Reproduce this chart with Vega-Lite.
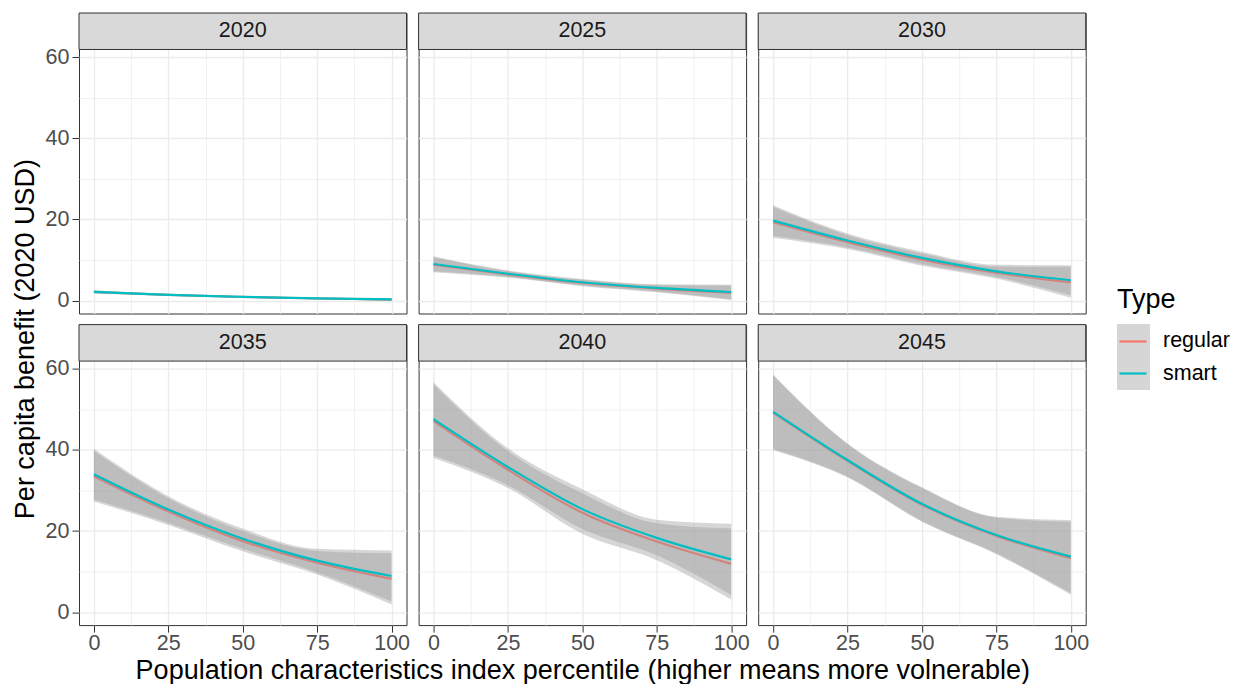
{
  "$schema": "https://vega.github.io/schema/vega-lite/v6.json",
  "background": "white",
  "padding": {"left": 12, "top": 12, "right": 5, "bottom": 2},
  "title": {"text": "Per capita benefit (2020 USD)", "orient": "left", "anchor": "middle", "fontSize": 27, "fontWeight": "normal", "font": "Liberation Sans", "color": "black", "offset": 4.5, "dx": 9},
  "datasets": {
    "curves": [
      {"year": "2020", "type": "regular", "x": 0, "fit": 2.1, "lo": 1.75, "hi": 2.5},
      {"year": "2020", "type": "regular", "x": 25, "fit": 1.38, "lo": 1.15, "hi": 1.62},
      {"year": "2020", "type": "regular", "x": 50, "fit": 0.88, "lo": 0.68, "hi": 1.08},
      {"year": "2020", "type": "regular", "x": 75, "fit": 0.5, "lo": 0.3, "hi": 0.7},
      {"year": "2020", "type": "regular", "x": 100, "fit": 0.25, "lo": -0.1, "hi": 0.6},
      {"year": "2020", "type": "smart", "x": 0, "fit": 2.15, "lo": 1.8, "hi": 2.55},
      {"year": "2020", "type": "smart", "x": 25, "fit": 1.4, "lo": 1.17, "hi": 1.65},
      {"year": "2020", "type": "smart", "x": 50, "fit": 0.9, "lo": 0.7, "hi": 1.1},
      {"year": "2020", "type": "smart", "x": 75, "fit": 0.52, "lo": 0.32, "hi": 0.72},
      {"year": "2020", "type": "smart", "x": 100, "fit": 0.27, "lo": -0.08, "hi": 0.62},
      {"year": "2025", "type": "regular", "x": 0, "fit": 8.85, "lo": 7.0, "hi": 10.7},
      {"year": "2025", "type": "regular", "x": 25, "fit": 6.45, "lo": 5.65, "hi": 7.25},
      {"year": "2025", "type": "regular", "x": 50, "fit": 4.35, "lo": 3.55, "hi": 5.15},
      {"year": "2025", "type": "regular", "x": 75, "fit": 2.95, "lo": 2.05, "hi": 3.85},
      {"year": "2025", "type": "regular", "x": 100, "fit": 1.9, "lo": 0.1, "hi": 3.7},
      {"year": "2025", "type": "smart", "x": 0, "fit": 9.0, "lo": 7.2, "hi": 10.9},
      {"year": "2025", "type": "smart", "x": 25, "fit": 6.6, "lo": 5.8, "hi": 7.4},
      {"year": "2025", "type": "smart", "x": 50, "fit": 4.5, "lo": 3.7, "hi": 5.3},
      {"year": "2025", "type": "smart", "x": 75, "fit": 3.1, "lo": 2.2, "hi": 4.0},
      {"year": "2025", "type": "smart", "x": 100, "fit": 2.1, "lo": 0.3, "hi": 3.9},
      {"year": "2030", "type": "regular", "x": 0, "fit": 19.3, "lo": 15.5, "hi": 23.1},
      {"year": "2030", "type": "regular", "x": 25, "fit": 14.4, "lo": 12.7, "hi": 16.1},
      {"year": "2030", "type": "regular", "x": 50, "fit": 10.1, "lo": 8.6, "hi": 11.6},
      {"year": "2030", "type": "regular", "x": 75, "fit": 6.85, "lo": 5.4, "hi": 8.4},
      {"year": "2030", "type": "regular", "x": 100, "fit": 4.5, "lo": 0.7, "hi": 8.3},
      {"year": "2030", "type": "smart", "x": 0, "fit": 19.7, "lo": 15.9, "hi": 23.5},
      {"year": "2030", "type": "smart", "x": 25, "fit": 14.8, "lo": 13.1, "hi": 16.5},
      {"year": "2030", "type": "smart", "x": 50, "fit": 10.5, "lo": 9.0, "hi": 12.0},
      {"year": "2030", "type": "smart", "x": 75, "fit": 7.2, "lo": 5.8, "hi": 8.8},
      {"year": "2030", "type": "smart", "x": 100, "fit": 5.0, "lo": 1.3, "hi": 8.7},
      {"year": "2035", "type": "regular", "x": 0, "fit": 33.5, "lo": 27.3, "hi": 39.8},
      {"year": "2035", "type": "regular", "x": 25, "fit": 24.8, "lo": 21.5, "hi": 28.1},
      {"year": "2035", "type": "regular", "x": 50, "fit": 17.5, "lo": 15.0, "hi": 20.0},
      {"year": "2035", "type": "regular", "x": 75, "fit": 12.2, "lo": 9.3, "hi": 15.1},
      {"year": "2035", "type": "regular", "x": 100, "fit": 8.2, "lo": 1.9, "hi": 14.5},
      {"year": "2035", "type": "smart", "x": 0, "fit": 34.0, "lo": 27.8, "hi": 40.3},
      {"year": "2035", "type": "smart", "x": 25, "fit": 25.3, "lo": 22.0, "hi": 28.6},
      {"year": "2035", "type": "smart", "x": 50, "fit": 18.1, "lo": 15.6, "hi": 20.6},
      {"year": "2035", "type": "smart", "x": 75, "fit": 12.7, "lo": 9.8, "hi": 15.6},
      {"year": "2035", "type": "smart", "x": 100, "fit": 8.9, "lo": 2.6, "hi": 15.2},
      {"year": "2040", "type": "regular", "x": 0, "fit": 47.1, "lo": 38.0, "hi": 56.2},
      {"year": "2040", "type": "regular", "x": 25, "fit": 35.1, "lo": 30.6, "hi": 39.7},
      {"year": "2040", "type": "regular", "x": 50, "fit": 24.5, "lo": 19.3, "hi": 29.3},
      {"year": "2040", "type": "regular", "x": 75, "fit": 17.4, "lo": 12.8, "hi": 21.9},
      {"year": "2040", "type": "regular", "x": 100, "fit": 11.9, "lo": 3.1, "hi": 20.6},
      {"year": "2040", "type": "smart", "x": 0, "fit": 47.6, "lo": 38.6, "hi": 56.7},
      {"year": "2040", "type": "smart", "x": 25, "fit": 35.8, "lo": 31.3, "hi": 40.4},
      {"year": "2040", "type": "smart", "x": 50, "fit": 25.4, "lo": 20.5, "hi": 30.3},
      {"year": "2040", "type": "smart", "x": 75, "fit": 18.3, "lo": 14.0, "hi": 22.8},
      {"year": "2040", "type": "smart", "x": 100, "fit": 13.0, "lo": 4.2, "hi": 21.8},
      {"year": "2045", "type": "regular", "x": 0, "fit": 49.2, "lo": 40.0, "hi": 58.4},
      {"year": "2045", "type": "regular", "x": 25, "fit": 37.3, "lo": 33.2, "hi": 41.4},
      {"year": "2045", "type": "regular", "x": 50, "fit": 26.5, "lo": 22.3, "hi": 30.6},
      {"year": "2045", "type": "regular", "x": 75, "fit": 18.8, "lo": 14.3, "hi": 23.3},
      {"year": "2045", "type": "regular", "x": 100, "fit": 13.3, "lo": 4.3, "hi": 22.3},
      {"year": "2045", "type": "smart", "x": 0, "fit": 49.4, "lo": 40.2, "hi": 58.6},
      {"year": "2045", "type": "smart", "x": 25, "fit": 37.5, "lo": 33.4, "hi": 41.6},
      {"year": "2045", "type": "smart", "x": 50, "fit": 26.7, "lo": 22.5, "hi": 30.8},
      {"year": "2045", "type": "smart", "x": 75, "fit": 19.0, "lo": 14.5, "hi": 23.5},
      {"year": "2045", "type": "smart", "x": 100, "fit": 13.7, "lo": 4.7, "hi": 22.7}
    ]
  },
  "spacing": 9.6,
  "resolve": {"scale": {"fill": "shared", "stroke": "shared"}, "legend": {"fill": "shared", "stroke": "shared"}},
  "vconcat": [
    {
      "hconcat": [
        {
          "width": 327.5, "height": 300.5,
          "encoding": {"x": {"field": "x", "type": "quantitative", "title": null, "scale": {"domain": [-5, 105], "nice": false, "zero": false}, "axis": {"values": [0, 12.5, 25, 37.5, 50, 62.5, 75, 87.5, 100], "labels": false, "ticks": false, "gridWidth": {"condition": {"test": "datum.value % 25 === 0", "value": 1.3}, "value": 0.7}}}},
          "layer": [
            {"data": {"name": "curves"}, "transform": [{"filter": "datum.year === '2020' && datum.type === 'regular'"}], "mark": {"type": "area", "opacity": 0.4, "interpolate": "monotone"}, "encoding": {"y": {"field": "lo", "type": "quantitative", "title": null, "scale": {"domain": [-3.2, 70.9], "nice": false, "zero": false}, "axis": {"values": [0, 10, 20, 30, 40, 50, 60], "labelExpr": "datum.value % 20 === 0 ? datum.label : ''", "tickOpacity": {"condition": {"test": "datum.value % 20 === 0", "value": 1}, "value": 0}, "gridWidth": {"condition": {"test": "datum.value % 20 === 0", "value": 1.3}, "value": 0.7}}}, "y2": {"field": "hi"}, "fill": {"field": "type", "type": "nominal", "scale": {"range": ["#999999", "#999999"]}, "legend": {"orient": "none", "legendX": 1038, "legendY": 274, "title": "Type", "symbolType": "square", "symbolSize": 1089, "symbolStrokeWidth": 0, "rowPadding": 0, "labelOffset": 13, "titlePadding": 10}}}},
            {"data": {"name": "curves"}, "transform": [{"filter": "datum.year === '2020' && datum.type === 'regular'"}], "mark": {"type": "line", "strokeWidth": 2.2, "interpolate": "monotone"}, "encoding": {"y": {"field": "fit", "type": "quantitative", "title": null}, "stroke": {"field": "type", "type": "nominal", "scale": {"domain": ["regular", "smart"], "range": ["#F8766D", "#00BFC4"]}, "legend": {"orient": "none", "legendX": 1039, "legendY": 313.5, "title": null, "labelExpr": "''", "symbolType": "stroke", "symbolSize": 729, "symbolStrokeWidth": 2.2, "rowPadding": 6, "zindex": 2}}}},
            {"data": {"name": "curves"}, "transform": [{"filter": "datum.year === '2020' && datum.type === 'smart'"}], "mark": {"type": "area", "opacity": 0.4, "interpolate": "monotone"}, "encoding": {"y": {"field": "lo", "type": "quantitative", "title": null}, "y2": {"field": "hi"}, "fill": {"field": "type", "type": "nominal"}}},
            {"data": {"name": "curves"}, "transform": [{"filter": "datum.year === '2020' && datum.type === 'smart'"}], "mark": {"type": "line", "strokeWidth": 2.2, "interpolate": "monotone"}, "encoding": {"y": {"field": "fit", "type": "quantitative", "title": null}, "stroke": {"field": "type", "type": "nominal"}}},
            {"data": {"name": "curves"}, "transform": [{"filter": "datum.year === '2020' && datum.type === 'regular' && datum.x === 0"}], "mark": {"type": "rect", "fill": "#D9D9D9", "stroke": "#333333", "strokeWidth": 1}, "encoding": {"x": {"datum": -5, "type": "quantitative"}, "x2": {"datum": 105}, "y": {"datum": 61.9, "type": "quantitative"}, "y2": {"datum": 70.9}}},
            {"data": {"name": "curves"}, "transform": [{"filter": "datum.year === '2020' && datum.type === 'regular' && datum.x === 0"}], "mark": {"type": "text", "fontSize": 21.5, "color": "#1A1A1A", "baseline": "middle", "align": "center"}, "encoding": {"x": {"datum": 50, "type": "quantitative"}, "y": {"datum": 66.4, "type": "quantitative"}, "text": {"field": "year", "type": "nominal"}}}
          ]
        },
        {
          "width": 327.5, "height": 300.5,
          "encoding": {"x": {"field": "x", "type": "quantitative", "title": null, "scale": {"domain": [-5, 105], "nice": false, "zero": false}, "axis": {"values": [0, 12.5, 25, 37.5, 50, 62.5, 75, 87.5, 100], "labels": false, "ticks": false, "gridWidth": {"condition": {"test": "datum.value % 25 === 0", "value": 1.3}, "value": 0.7}}}},
          "layer": [
            {"data": {"name": "curves"}, "transform": [{"filter": "datum.year === '2025' && datum.type === 'regular'"}], "mark": {"type": "area", "opacity": 0.4, "interpolate": "monotone"}, "encoding": {"y": {"field": "lo", "type": "quantitative", "title": null, "scale": {"domain": [-3.2, 70.9], "nice": false, "zero": false}, "axis": {"values": [0, 10, 20, 30, 40, 50, 60], "labels": false, "ticks": false, "gridWidth": {"condition": {"test": "datum.value % 20 === 0", "value": 1.3}, "value": 0.7}}}, "y2": {"field": "hi"}, "fill": {"field": "type", "type": "nominal"}}},
            {"data": {"name": "curves"}, "transform": [{"filter": "datum.year === '2025' && datum.type === 'regular'"}], "mark": {"type": "line", "strokeWidth": 2.2, "interpolate": "monotone"}, "encoding": {"y": {"field": "fit", "type": "quantitative", "title": null}, "stroke": {"field": "type", "type": "nominal"}}},
            {"data": {"name": "curves"}, "transform": [{"filter": "datum.year === '2025' && datum.type === 'smart'"}], "mark": {"type": "area", "opacity": 0.4, "interpolate": "monotone"}, "encoding": {"y": {"field": "lo", "type": "quantitative", "title": null}, "y2": {"field": "hi"}, "fill": {"field": "type", "type": "nominal"}}},
            {"data": {"name": "curves"}, "transform": [{"filter": "datum.year === '2025' && datum.type === 'smart'"}], "mark": {"type": "line", "strokeWidth": 2.2, "interpolate": "monotone"}, "encoding": {"y": {"field": "fit", "type": "quantitative", "title": null}, "stroke": {"field": "type", "type": "nominal"}}},
            {"data": {"name": "curves"}, "transform": [{"filter": "datum.year === '2025' && datum.type === 'regular' && datum.x === 0"}], "mark": {"type": "rect", "fill": "#D9D9D9", "stroke": "#333333", "strokeWidth": 1}, "encoding": {"x": {"datum": -5, "type": "quantitative"}, "x2": {"datum": 105}, "y": {"datum": 61.9, "type": "quantitative"}, "y2": {"datum": 70.9}}},
            {"data": {"name": "curves"}, "transform": [{"filter": "datum.year === '2025' && datum.type === 'regular' && datum.x === 0"}], "mark": {"type": "text", "fontSize": 21.5, "color": "#1A1A1A", "baseline": "middle", "align": "center"}, "encoding": {"x": {"datum": 50, "type": "quantitative"}, "y": {"datum": 66.4, "type": "quantitative"}, "text": {"field": "year", "type": "nominal"}}}
          ]
        },
        {
          "width": 327.5, "height": 300.5,
          "encoding": {"x": {"field": "x", "type": "quantitative", "title": null, "scale": {"domain": [-5, 105], "nice": false, "zero": false}, "axis": {"values": [0, 12.5, 25, 37.5, 50, 62.5, 75, 87.5, 100], "labels": false, "ticks": false, "gridWidth": {"condition": {"test": "datum.value % 25 === 0", "value": 1.3}, "value": 0.7}}}},
          "layer": [
            {"data": {"name": "curves"}, "transform": [{"filter": "datum.year === '2030' && datum.type === 'regular'"}], "mark": {"type": "area", "opacity": 0.4, "interpolate": "monotone"}, "encoding": {"y": {"field": "lo", "type": "quantitative", "title": null, "scale": {"domain": [-3.2, 70.9], "nice": false, "zero": false}, "axis": {"values": [0, 10, 20, 30, 40, 50, 60], "labels": false, "ticks": false, "gridWidth": {"condition": {"test": "datum.value % 20 === 0", "value": 1.3}, "value": 0.7}}}, "y2": {"field": "hi"}, "fill": {"field": "type", "type": "nominal"}}},
            {"data": {"name": "curves"}, "transform": [{"filter": "datum.year === '2030' && datum.type === 'regular'"}], "mark": {"type": "line", "strokeWidth": 2.2, "interpolate": "monotone"}, "encoding": {"y": {"field": "fit", "type": "quantitative", "title": null}, "stroke": {"field": "type", "type": "nominal"}}},
            {"data": {"name": "curves"}, "transform": [{"filter": "datum.year === '2030' && datum.type === 'smart'"}], "mark": {"type": "area", "opacity": 0.4, "interpolate": "monotone"}, "encoding": {"y": {"field": "lo", "type": "quantitative", "title": null}, "y2": {"field": "hi"}, "fill": {"field": "type", "type": "nominal"}}},
            {"data": {"name": "curves"}, "transform": [{"filter": "datum.year === '2030' && datum.type === 'smart'"}], "mark": {"type": "line", "strokeWidth": 2.2, "interpolate": "monotone"}, "encoding": {"y": {"field": "fit", "type": "quantitative", "title": null}, "stroke": {"field": "type", "type": "nominal"}}},
            {"data": {"name": "curves"}, "transform": [{"filter": "datum.year === '2030' && datum.type === 'regular' && datum.x === 0"}], "mark": {"type": "rect", "fill": "#D9D9D9", "stroke": "#333333", "strokeWidth": 1}, "encoding": {"x": {"datum": -5, "type": "quantitative"}, "x2": {"datum": 105}, "y": {"datum": 61.9, "type": "quantitative"}, "y2": {"datum": 70.9}}},
            {"data": {"name": "curves"}, "transform": [{"filter": "datum.year === '2030' && datum.type === 'regular' && datum.x === 0"}], "mark": {"type": "text", "fontSize": 21.5, "color": "#1A1A1A", "baseline": "middle", "align": "center"}, "encoding": {"x": {"datum": 50, "type": "quantitative"}, "y": {"datum": 66.4, "type": "quantitative"}, "text": {"field": "year", "type": "nominal"}}}
          ]
        }
      ],
      "spacing": 11.6,
      "bounds": "flush",
      "resolve": {"scale": {"fill": "shared", "stroke": "shared"}, "legend": {"fill": "shared", "stroke": "shared"}}
    },
    {
      "hconcat": [
        {
          "width": 327.5, "height": 300.5,
          "encoding": {"x": {"field": "x", "type": "quantitative", "title": null, "scale": {"domain": [-5, 105], "nice": false, "zero": false}, "axis": {"values": [0, 12.5, 25, 37.5, 50, 62.5, 75, 87.5, 100], "labelExpr": "datum.value % 25 === 0 ? datum.label : ''", "labelPadding": 0, "tickOpacity": {"condition": {"test": "datum.value % 25 === 0", "value": 1}, "value": 0}, "gridWidth": {"condition": {"test": "datum.value % 25 === 0", "value": 1.3}, "value": 0.7}}}},
          "layer": [
            {"data": {"name": "curves"}, "transform": [{"filter": "datum.year === '2035' && datum.type === 'regular'"}], "mark": {"type": "area", "opacity": 0.4, "interpolate": "monotone"}, "encoding": {"y": {"field": "lo", "type": "quantitative", "title": null, "scale": {"domain": [-3.2, 70.9], "nice": false, "zero": false}, "axis": {"values": [0, 10, 20, 30, 40, 50, 60], "labelExpr": "datum.value % 20 === 0 ? datum.label : ''", "tickOpacity": {"condition": {"test": "datum.value % 20 === 0", "value": 1}, "value": 0}, "gridWidth": {"condition": {"test": "datum.value % 20 === 0", "value": 1.3}, "value": 0.7}}}, "y2": {"field": "hi"}, "fill": {"field": "type", "type": "nominal"}}},
            {"data": {"name": "curves"}, "transform": [{"filter": "datum.year === '2035' && datum.type === 'regular'"}], "mark": {"type": "line", "strokeWidth": 2.2, "interpolate": "monotone"}, "encoding": {"y": {"field": "fit", "type": "quantitative", "title": null}, "stroke": {"field": "type", "type": "nominal"}}},
            {"data": {"name": "curves"}, "transform": [{"filter": "datum.year === '2035' && datum.type === 'smart'"}], "mark": {"type": "area", "opacity": 0.4, "interpolate": "monotone"}, "encoding": {"y": {"field": "lo", "type": "quantitative", "title": null}, "y2": {"field": "hi"}, "fill": {"field": "type", "type": "nominal"}}},
            {"data": {"name": "curves"}, "transform": [{"filter": "datum.year === '2035' && datum.type === 'smart'"}], "mark": {"type": "line", "strokeWidth": 2.2, "interpolate": "monotone"}, "encoding": {"y": {"field": "fit", "type": "quantitative", "title": null}, "stroke": {"field": "type", "type": "nominal"}}},
            {"data": {"name": "curves"}, "transform": [{"filter": "datum.year === '2035' && datum.type === 'regular' && datum.x === 0"}], "mark": {"type": "rect", "fill": "#D9D9D9", "stroke": "#333333", "strokeWidth": 1}, "encoding": {"x": {"datum": -5, "type": "quantitative"}, "x2": {"datum": 105}, "y": {"datum": 61.9, "type": "quantitative"}, "y2": {"datum": 70.9}}},
            {"data": {"name": "curves"}, "transform": [{"filter": "datum.year === '2035' && datum.type === 'regular' && datum.x === 0"}], "mark": {"type": "text", "fontSize": 21.5, "color": "#1A1A1A", "baseline": "middle", "align": "center"}, "encoding": {"x": {"datum": 50, "type": "quantitative"}, "y": {"datum": 66.4, "type": "quantitative"}, "text": {"field": "year", "type": "nominal"}}}
          ]
        },
        {
          "width": 327.5, "height": 300.5,
          "encoding": {"x": {"field": "x", "type": "quantitative", "title": "Population characteristics index percentile (higher means more volnerable)", "scale": {"domain": [-5, 105], "nice": false, "zero": false}, "axis": {"values": [0, 12.5, 25, 37.5, 50, 62.5, 75, 87.5, 100], "labelExpr": "datum.value % 25 === 0 ? datum.label : ''", "labelPadding": 0, "tickOpacity": {"condition": {"test": "datum.value % 25 === 0", "value": 1}, "value": 0}, "gridWidth": {"condition": {"test": "datum.value % 25 === 0", "value": 1.3}, "value": 0.7}, "titlePadding": 4}}},
          "layer": [
            {"data": {"name": "curves"}, "transform": [{"filter": "datum.year === '2040' && datum.type === 'regular'"}], "mark": {"type": "area", "opacity": 0.4, "interpolate": "monotone"}, "encoding": {"y": {"field": "lo", "type": "quantitative", "title": null, "scale": {"domain": [-3.2, 70.9], "nice": false, "zero": false}, "axis": {"values": [0, 10, 20, 30, 40, 50, 60], "labels": false, "ticks": false, "gridWidth": {"condition": {"test": "datum.value % 20 === 0", "value": 1.3}, "value": 0.7}}}, "y2": {"field": "hi"}, "fill": {"field": "type", "type": "nominal"}}},
            {"data": {"name": "curves"}, "transform": [{"filter": "datum.year === '2040' && datum.type === 'regular'"}], "mark": {"type": "line", "strokeWidth": 2.2, "interpolate": "monotone"}, "encoding": {"y": {"field": "fit", "type": "quantitative", "title": null}, "stroke": {"field": "type", "type": "nominal"}}},
            {"data": {"name": "curves"}, "transform": [{"filter": "datum.year === '2040' && datum.type === 'smart'"}], "mark": {"type": "area", "opacity": 0.4, "interpolate": "monotone"}, "encoding": {"y": {"field": "lo", "type": "quantitative", "title": null}, "y2": {"field": "hi"}, "fill": {"field": "type", "type": "nominal"}}},
            {"data": {"name": "curves"}, "transform": [{"filter": "datum.year === '2040' && datum.type === 'smart'"}], "mark": {"type": "line", "strokeWidth": 2.2, "interpolate": "monotone"}, "encoding": {"y": {"field": "fit", "type": "quantitative", "title": null}, "stroke": {"field": "type", "type": "nominal"}}},
            {"data": {"name": "curves"}, "transform": [{"filter": "datum.year === '2040' && datum.type === 'regular' && datum.x === 0"}], "mark": {"type": "rect", "fill": "#D9D9D9", "stroke": "#333333", "strokeWidth": 1}, "encoding": {"x": {"datum": -5, "type": "quantitative"}, "x2": {"datum": 105}, "y": {"datum": 61.9, "type": "quantitative"}, "y2": {"datum": 70.9}}},
            {"data": {"name": "curves"}, "transform": [{"filter": "datum.year === '2040' && datum.type === 'regular' && datum.x === 0"}], "mark": {"type": "text", "fontSize": 21.5, "color": "#1A1A1A", "baseline": "middle", "align": "center"}, "encoding": {"x": {"datum": 50, "type": "quantitative"}, "y": {"datum": 66.4, "type": "quantitative"}, "text": {"field": "year", "type": "nominal"}}}
          ]
        },
        {
          "width": 327.5, "height": 300.5,
          "encoding": {"x": {"field": "x", "type": "quantitative", "title": null, "scale": {"domain": [-5, 105], "nice": false, "zero": false}, "axis": {"values": [0, 12.5, 25, 37.5, 50, 62.5, 75, 87.5, 100], "labelExpr": "datum.value % 25 === 0 ? datum.label : ''", "labelPadding": 0, "tickOpacity": {"condition": {"test": "datum.value % 25 === 0", "value": 1}, "value": 0}, "gridWidth": {"condition": {"test": "datum.value % 25 === 0", "value": 1.3}, "value": 0.7}}}},
          "layer": [
            {"data": {"name": "curves"}, "transform": [{"filter": "datum.year === '2045' && datum.type === 'regular'"}], "mark": {"type": "area", "opacity": 0.4, "interpolate": "monotone"}, "encoding": {"y": {"field": "lo", "type": "quantitative", "title": null, "scale": {"domain": [-3.2, 70.9], "nice": false, "zero": false}, "axis": {"values": [0, 10, 20, 30, 40, 50, 60], "labels": false, "ticks": false, "gridWidth": {"condition": {"test": "datum.value % 20 === 0", "value": 1.3}, "value": 0.7}}}, "y2": {"field": "hi"}, "fill": {"field": "type", "type": "nominal"}}},
            {"data": {"name": "curves"}, "transform": [{"filter": "datum.year === '2045' && datum.type === 'regular'"}], "mark": {"type": "line", "strokeWidth": 2.2, "interpolate": "monotone"}, "encoding": {"y": {"field": "fit", "type": "quantitative", "title": null}, "stroke": {"field": "type", "type": "nominal"}}},
            {"data": {"name": "curves"}, "transform": [{"filter": "datum.year === '2045' && datum.type === 'smart'"}], "mark": {"type": "area", "opacity": 0.4, "interpolate": "monotone"}, "encoding": {"y": {"field": "lo", "type": "quantitative", "title": null}, "y2": {"field": "hi"}, "fill": {"field": "type", "type": "nominal"}}},
            {"data": {"name": "curves"}, "transform": [{"filter": "datum.year === '2045' && datum.type === 'smart'"}], "mark": {"type": "line", "strokeWidth": 2.2, "interpolate": "monotone"}, "encoding": {"y": {"field": "fit", "type": "quantitative", "title": null}, "stroke": {"field": "type", "type": "nominal"}}},
            {"data": {"name": "curves"}, "transform": [{"filter": "datum.year === '2045' && datum.type === 'regular' && datum.x === 0"}], "mark": {"type": "rect", "fill": "#D9D9D9", "stroke": "#333333", "strokeWidth": 1}, "encoding": {"x": {"datum": -5, "type": "quantitative"}, "x2": {"datum": 105}, "y": {"datum": 61.9, "type": "quantitative"}, "y2": {"datum": 70.9}}},
            {"data": {"name": "curves"}, "transform": [{"filter": "datum.year === '2045' && datum.type === 'regular' && datum.x === 0"}], "mark": {"type": "text", "fontSize": 21.5, "color": "#1A1A1A", "baseline": "middle", "align": "center"}, "encoding": {"x": {"datum": 50, "type": "quantitative"}, "y": {"datum": 66.4, "type": "quantitative"}, "text": {"field": "year", "type": "nominal"}}}
          ]
        }
      ],
      "spacing": 11.6,
      "bounds": "flush",
      "resolve": {"scale": {"fill": "shared", "stroke": "shared"}, "legend": {"fill": "shared", "stroke": "shared"}}
    }
  ],
  "config": {
    "font": "Liberation Sans",
    "view": {"stroke": "#333333", "strokeWidth": 1},
    "axis": {"domain": false, "gridColor": "#EBEBEB", "tickColor": "#333333", "tickSize": 7, "tickWidth": 1, "labelFontSize": 21.5, "labelColor": "#4D4D4D", "labelPadding": 3, "labelFlush": false, "labelOverlap": false, "titleFontSize": 27, "titleFontWeight": "normal", "titleColor": "black"},
    "legend": {"labelFontSize": 21.5, "labelColor": "black", "titleFontSize": 27, "titleFontWeight": "normal", "titleColor": "black"}
  }
}
